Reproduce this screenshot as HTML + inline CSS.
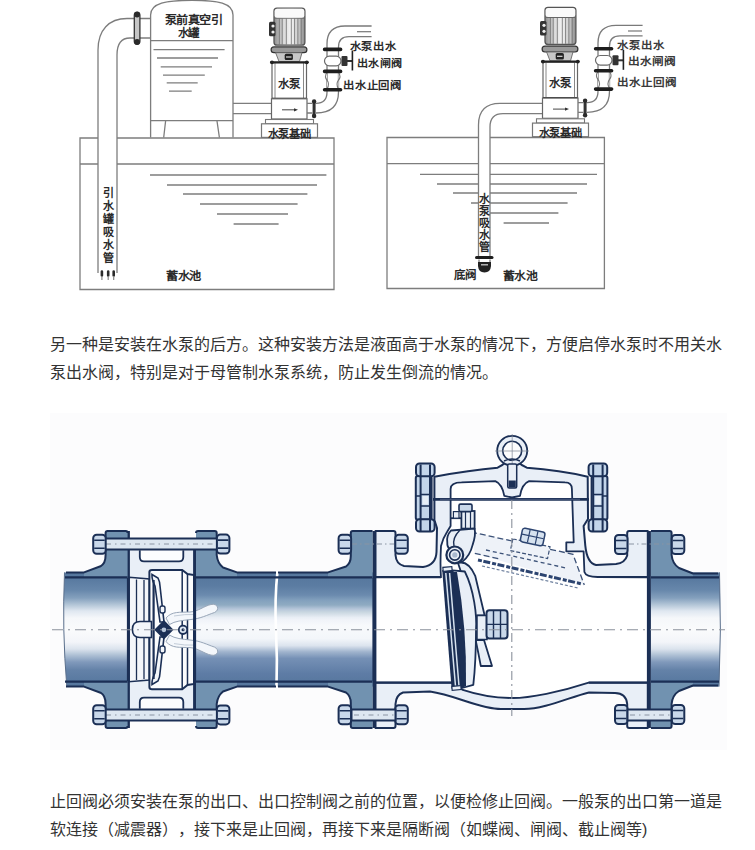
<!DOCTYPE html>
<html lang="zh-CN"><head><meta charset="utf-8">
<style>
html,body{margin:0;padding:0;background:#fff;width:755px;height:850px;overflow:hidden;}
body{position:relative;font-family:"Liberation Sans",sans-serif;}
.p{position:absolute;left:50px;width:680px;font-size:16px;line-height:28px;color:#333;white-space:nowrap;text-spacing-trim:space-all;}
.ln{display:block;height:28px;}
#topd{position:absolute;left:0;top:0;}
#valve{position:absolute;left:50px;top:413px;}
</style></head><body>
<svg id="topd" width="755" height="300" viewBox="0 0 755 300">
<defs>
<linearGradient id="mg" x1="0" y1="0" x2="1" y2="0">
<stop offset="0" stop-color="#8e8e8e"/><stop offset="0.3" stop-color="#d8d8d8"/><stop offset="0.55" stop-color="#f4f4f4"/><stop offset="0.8" stop-color="#c8c8c8"/><stop offset="1" stop-color="#8a8a8a"/>
</linearGradient>
<g id="pump">
 <!-- motor -->
 <rect x="274" y="8.2" width="30.9" height="37" rx="3" fill="url(#mg)" stroke="#555" stroke-width="1.3"/>
 <path d="M274.5 18.1H304.4" stroke="#666" stroke-width="1.2"/>
 <rect x="274.6" y="8.8" width="29.7" height="9" rx="2.5" fill="#fafafa"/>
 <path d="M279.3 18.5V44.5M282.2 18.5V44.5M286.3 18.5V44.5M291.3 18.5V44.5M294.6 18.5V44.5M297.9 18.5V44.5M301.2 18.5V44.5" stroke="#6a6a6a" stroke-width="0.8"/>
 <rect x="269" y="21.8" width="6.5" height="14.4" rx="1.5" fill="#333"/>
 <circle cx="273" cy="26" r="1.6" fill="#eee"/><circle cx="273" cy="32" r="1.6" fill="#eee"/>
 <!-- flange plate -->
 <rect x="271.1" y="46.9" width="35.8" height="5.8" rx="2.9" fill="#9a9a9a" stroke="#333" stroke-width="1.2"/>
 <path d="M275.6 52.7 L279 61.5 L299.5 61.5 L302 52.7 Z" fill="#c8c8c8" stroke="#666" stroke-width="0.9"/>
 <rect x="284.7" y="53.8" width="8.2" height="6.3" rx="1.5" fill="#222"/>
 <path d="M286 57H291.5" stroke="#ddd" stroke-width="1.2"/>
 <!-- pump body -->
 <rect x="272" y="62.5" width="34.5" height="36" fill="#fff" stroke="#666" stroke-width="1.2"/>
 <path d="M275 63V98M303.5 63V98" stroke="#888" stroke-width="1"/>
 <path d="M271 62.3H307.5" stroke="#222" stroke-width="2.2" stroke-linecap="round"/>
 <circle cx="272" cy="62.3" r="1.9" fill="#222"/><circle cx="306.8" cy="62.3" r="1.9" fill="#222"/>
 <path d="M272 98.5H306.5" stroke="#333" stroke-width="1.6"/>
 <text x="289.3" y="88" font-size="11.5" font-weight="bold" fill="#2a2a2a" text-anchor="middle">水泵</text>
 <!-- base -->
 <rect x="271.5" y="98.8" width="35.5" height="20.2" fill="#fff" stroke="#666" stroke-width="1.2"/>
 <path d="M282 109.8H296" stroke="#555" stroke-width="1.1"/><path d="M294 108.2L298 109.8L294 111.4Z" fill="#333"/>
 <rect x="265.5" y="119.5" width="48" height="4.3" fill="#fff" stroke="#777" stroke-width="1.1"/>
 <!-- foundation -->
 <rect x="261.5" y="123.8" width="56" height="13.6" fill="#fff" stroke="#777" stroke-width="1.2"/>
 <text x="289.2" y="137.8" font-size="11.5" font-weight="bold" fill="#2a2a2a" text-anchor="middle" textLength="43" lengthAdjust="spacingAndGlyphs">水泵基础</text>
 <!-- discharge flange -->
 <rect x="312.6" y="100.5" width="3" height="16.5" rx="1.5" fill="#333"/><circle cx="314.1" cy="101.5" r="2.2" fill="#2a2a2a"/><circle cx="314.1" cy="116" r="2.2" fill="#2a2a2a"/>
 <!-- discharge pipe -->
 <g fill="none" stroke="#7a7a7a" stroke-width="1.3">
  <path d="M316 103.3 Q327 103.3 327 92 L327 44 Q327 26 345 26 L371.6 26"/>
  <path d="M316 113 Q338.5 113 338.5 92 L338.5 47 Q338.5 36.6 349 36.6 L371.6 36.6"/>
  <path d="M307 103.4H312.5M307 113H312.5"/>
 </g>
 <path d="M357 31.7H371" stroke="#777" stroke-width="1.2"/>
 <!-- valve bulge (gate) -->
 <rect x="324.5" y="56.2" width="16.5" height="9.6" rx="4.8" fill="#fff" stroke="#6a6a6a" stroke-width="1.2"/>
 <!-- check valve wavy -->
 <path d="M327 72 Q324 77 327 80 Q330 84 327 89 M338.5 72 Q341.5 77 338.5 80 Q335.5 84 338.5 89" fill="#fff" stroke="#777" stroke-width="1.1"/>
 <!-- flanges -->
 <g stroke="#1e1e1e" stroke-width="3.6" stroke-linecap="round">
  <path d="M324.6 49.4H340.6M324.6 71.4H340.6M324.6 89.8H340.6"/>
 </g>
 <!-- gate handle -->
 <rect x="341.5" y="56" width="6" height="10" rx="1" fill="#333"/>
 <path d="M347 61H352.4" stroke="#333" stroke-width="2"/>
 <path d="M352.4 50.5V70.5" stroke="#222" stroke-width="1.6"/>

</g>
</defs>
<g fill="none" stroke="#7d7d7d" stroke-width="1.3">
 <!-- LEFT pool -->
 <path d="M98 138H80V289.5H334V138H117"/>
 <path d="M80 164H98M117 164H334"/>
 <path d="M150 175H326.4M167 185H317M183 194H307.4M200 204H297.6M217 214H288M233.6 224H278.6"/>
 <!-- suction pipe -->
 <path d="M134 18.5 L127 18.5 C109 18.5 98 30 98 50 L98 273"/>
 <path d="M134 38 L130 38 C121 38 117 44 117 55 L117 273"/>
 <path d="M140 18.5H150.6M140 38H150.6"/>
 <!-- tank -->
 <path d="M150.6 137.5 L150.6 15 C150.6 3 166 0.3 192 0.3 C218 0.3 233 3 233 15 L233 137.5"/>
 <path d="M150.6 40.7H233M150.6 120.6H233"/>
 <path d="M165.6 121L163.7 137.5M217 121L219.4 137.5"/>
 <path d="M153.5 49.6H224.6M157 58H218M160.7 66.8H212M163 75.2H204.8M166.7 82.8H197.7M169 91.2H191.7"/>
 <!-- suction line to pump -->
 <path d="M233 103.4H271.5M233 113.6H271.5"/>
 <!-- RIGHT pool -->
 <path d="M478.5 137.5H387V288.5H604.4V137.5H490"/>
 <path d="M387 163.6H478.5M490 163.6H604.4"/>
 <path d="M420 174.4H478.5M490 174.4H597M437 184H478.5M490 184H587M453 193H478.5M490 193H577M471 203H478.5M490 203H567.6M490 213H558.4M503.6 223H549"/>
 <!-- right suction pipe -->
 <path d="M543 103.4 L500 103.4 Q478.5 103.4 478.5 125 L478.5 257"/>
 <path d="M543 113.7 L503 113.7 Q490 113.7 490 127 L490 257"/>
</g>
<!-- flange on suction pipe -->
<rect x="134.3" y="12.5" width="5.6" height="31.5" rx="2.8" fill="#c6c6c6" stroke="#333" stroke-width="1.3"/>
<circle cx="137.1" cy="14.5" r="2.9" fill="#2a2a2a"/><circle cx="137.1" cy="42" r="2.9" fill="#2a2a2a"/>
<!-- tank labels -->
<g font-size="11.5" font-weight="bold" fill="#2a2a2a">
 <text x="164.5" y="24" textLength="57.7" lengthAdjust="spacingAndGlyphs">泵前真空引</text>
 <text x="177.5" y="36.8" textLength="21.8" lengthAdjust="spacingAndGlyphs">水罐</text>
</g>
<!-- vertical label left -->
<g font-size="11" font-weight="bold" fill="#2a2a2a" text-anchor="middle">
 <text x="108" y="197">引</text><text x="108" y="210">水</text><text x="108" y="223">罐</text><text x="108" y="236">吸</text><text x="108" y="249">水</text><text x="108" y="262">管</text>
 <text x="484" y="203">水</text><text x="484" y="215">泵</text><text x="484" y="227">吸</text><text x="484" y="239">水</text><text x="484" y="251">管</text>
</g>
<path d="M101.9 271.5V275.5M108.2 271.5V275.5M113.7 271.5V275.5" stroke="#2a2a2a" stroke-width="2.6" stroke-linecap="round"/><path d="M101.9 276V280M108.2 276V280M113.7 276V280" stroke="#888" stroke-width="1.2"/>

<g font-size="11.5" font-weight="bold" fill="#2a2a2a">
 <text x="166" y="280.3" textLength="35" lengthAdjust="spacingAndGlyphs">蓄水池</text>
 <text x="503" y="279.5" textLength="34" lengthAdjust="spacingAndGlyphs">蓄水池</text>
 <text x="454" y="278.5" textLength="22" lengthAdjust="spacingAndGlyphs">底阀</text>
</g>
<!-- foot valve -->
<path d="M476.5 257.5H492" stroke="#1e1e1e" stroke-width="3" stroke-linecap="round"/>
<path d="M478 262 L478 266 Q478.5 272.5 484.5 272.5 Q490.5 272.5 491 266 L491 262 Z" fill="#222"/>
<path d="M481 264.8H488" stroke="#ccc" stroke-width="1.3"/><path d="M479 259.5V262M490 259.5V262" stroke="#555" stroke-width="1"/>
<g font-size="10.6" font-weight="bold" fill="#2b2b2b">
  <text x="349.5" y="50" textLength="47" lengthAdjust="spacingAndGlyphs">水泵出水</text>
  <text x="356.5" y="67.3" textLength="46" lengthAdjust="spacingAndGlyphs">出水闸阀</text>
  <text x="343" y="88.5" textLength="59" lengthAdjust="spacingAndGlyphs">出水止回阀</text>
 </g>
<use href="#pump"/>
<use href="#pump" x="271" y="-0.7"/>
<g font-size="10.6" fill="#3a3a3a" font-weight="bold">
  <text x="617" y="49" textLength="47.5" lengthAdjust="spacingAndGlyphs">水泵出水</text>
  <text x="627.5" y="64.8" textLength="48.5" lengthAdjust="spacingAndGlyphs">出水闸阀</text>
  <text x="617" y="86" textLength="60" lengthAdjust="spacingAndGlyphs">出水止回阀</text>
 </g>
</svg>
<div class="p" style="top:330.5px"><span class="ln">另一种是安装在水泵的后方。这种安装方法是液面高于水泵的情况下，方便启停水泵时不用关水</span><span class="ln">泵出水阀，特别是对于母管制水泵系统，防止发生倒流的情况。</span></div>
<svg id="valve" width="677" height="337" viewBox="50 413 677 337">
<defs>
<linearGradient id="pg" gradientUnits="userSpaceOnUse" x1="0" y1="572" x2="0" y2="687">
<stop offset="0" stop-color="#55769c"/>
<stop offset="0.12" stop-color="#5b7ca2"/>
<stop offset="0.2" stop-color="#6b8aae"/>
<stop offset="0.245" stop-color="#82a0bd"/>
<stop offset="0.287" stop-color="#8fabc2"/>
<stop offset="0.322" stop-color="#b6c6da"/>
<stop offset="0.348" stop-color="#c8d6e0"/>
<stop offset="0.396" stop-color="#e9eef5"/>
<stop offset="0.42" stop-color="#f1f4f9"/>
<stop offset="0.47" stop-color="#f8fafc"/>
<stop offset="0.58" stop-color="#f3f6fa"/>
<stop offset="0.64" stop-color="#dce4ee"/>
<stop offset="0.695" stop-color="#9fb3cd"/>
<stop offset="0.752" stop-color="#7590b5"/>
<stop offset="0.884" stop-color="#5e7ca5"/>
<stop offset="1" stop-color="#55769c"/>
</linearGradient>
<linearGradient id="pg2" gradientUnits="userSpaceOnUse" x1="0" y1="572" x2="0" y2="687">
<stop offset="0" stop-color="#55769c"/>
<stop offset="0.07" stop-color="#5a7ba1"/>
<stop offset="0.157" stop-color="#6787ab"/>
<stop offset="0.226" stop-color="#84a0bd"/>
<stop offset="0.287" stop-color="#b5c7d8"/>
<stop offset="0.339" stop-color="#dfe7f0"/>
<stop offset="0.4" stop-color="#f5f7fa"/>
<stop offset="0.504" stop-color="#fafbfc"/>
<stop offset="0.609" stop-color="#f3f5f9"/>
<stop offset="0.67" stop-color="#dbe3ed"/>
<stop offset="0.722" stop-color="#afc1d5"/>
<stop offset="0.783" stop-color="#8099bb"/>
<stop offset="0.852" stop-color="#6482a8"/>
<stop offset="0.939" stop-color="#5a7aa1"/>
<stop offset="1" stop-color="#55769c"/>
</linearGradient>
<g id="nut"><rect x="0" y="0" width="12.5" height="19" rx="3.5" fill="#c9d8ea" stroke="#1b2f55" stroke-width="2"/><path d="M1 5.5H11.5M1 13.5H11.5" stroke="#1b2f55" stroke-width="1.6"/></g>
<g id="vnut"><rect x="0" y="0" width="19" height="13" rx="3" fill="#c9d8ea" stroke="#1b2f55" stroke-width="2"/><path d="M5.5 1V12M13.5 1V12" stroke="#1b2f55" stroke-width="1.6"/></g>
<g id="vhalf">
 <!-- left flange -->
 <path d="M84 572.4 L100.5 566.3 Q105.6 563.5 105.6 555 L105.6 533 Q105.6 531 107.6 531 L125.8 531 Q127.6 531 127.6 533 L127.6 578 L84 578 Z" fill="#7192b0"/>
 <!-- wafer right flange -->
 <path d="M196 531 L214.7 531 Q216.7 531 216.7 533 L216.7 555 Q217.5 563 223 567.5 L237 572.4 L237 578 L196 578 Z" fill="#7192b0"/>
 <!-- middle flange -->
 <path d="M328 572.4 L346 566.5 Q350.8 563 350.8 556 L350.8 533 Q350.8 531 352.8 531 L372.5 531 L372.5 578 L328 578 Z" fill="#7192b0"/>
 <!-- outlet flange -->
 <path d="M651 531 L669.6 531 Q671.6 531 671.6 533 L671.6 555 Q672.5 564 679 568 L693 573.5 L693 578 L651 578 Z" fill="#7192b0"/>
 <g fill="none" stroke="#1b2f55" stroke-width="2" stroke-linejoin="round">
  <path d="M66 572.4 L84 572.4 L100.5 566.3 Q105.6 563.5 105.6 555 L105.6 533 Q105.6 531 107.6 531 L125.8 531 Q127.6 531 127.6 533"/>
  <path d="M196 533 Q196 531 198 531 L214.7 531 Q216.7 531 216.7 533 L216.7 555 Q217.5 563 223 567.5 L237 572.4 L276 572.4"/>
  <path d="M278 572.4 L328 572.4 L346 566.5 Q350.8 563 350.8 556 L350.8 533 Q350.8 531 352.8 531 L372.5 531"/>
  <path d="M651 531 L669.6 531 Q671.6 531 671.6 533 L671.6 555 Q672.5 564 679 568 L693 573.5 L718 573.5"/>
 </g>
 <!-- pipe inner lines -->
 <path d="M65 577.3H127.6 M196 577.3H372.5 M651 577.3H719" stroke="#1b2f55" stroke-width="2.2"/>
 <!-- wafer bolt -->
 <rect x="100" y="538.5" width="124" height="11" fill="#dde7f1" stroke="#1b2f55" stroke-width="2"/>
 <path d="M106 544H222" stroke="#8a94a3" stroke-width="1" stroke-dasharray="5 4 1.5 4"/>
 <use href="#nut" x="93.2" y="534.8"/>
 <use href="#nut" x="216.9" y="534.6"/>
 <!-- middle bolt -->
 <path d="M352 544H394 M629 544H670" stroke="#8a94a3" stroke-width="1" stroke-dasharray="5 3 1.5 3"/>
 <use href="#nut" x="338.6" y="534.8"/>
 <use href="#nut" x="395.3" y="534.8"/>
 <use href="#nut" x="615" y="535"/>
 <use href="#nut" x="671.8" y="535"/>
</g>
</defs>
<rect x="50" y="413" width="677" height="337" fill="#fcfcfd"/>

<!-- pipes -->
<path d="M64.5 572.4 L128 572.4 L128 686.6 L66.8 686.6 Q62 630 64.5 572.4 Z" fill="url(#pg2)"/>
<path d="M64.5 572.4 Q62 630 66.8 686.6" fill="none" stroke="#5a6f8c" stroke-width="1"/>
<rect x="196" y="572.4" width="177" height="114.2" fill="url(#pg)"/>
<path d="M651 572.4 L719.5 572.4 Q721.5 630 719 686.6 L651 686.6 Z" fill="url(#pg2)"/>
<path d="M719.5 572.4 Q721.5 630 719 686.6" fill="none" stroke="#5a6f8c" stroke-width="1"/>
<!-- pipe break -->
<path d="M277.5 571 Q274.5 600 276 630 Q277.5 660 276.5 688" fill="none" stroke="#ffffff" stroke-width="2.6"/>

<!-- wafer body -->
<rect x="128" y="549" width="68" height="161" fill="#e9eff7"/>
<path d="M139.8 550.3 L139.8 557 Q139.8 561.4 144 561.4 L179 561.4 Q183.3 561.4 183.3 557 L183.3 550.3" fill="#fcfdfe" stroke="#1b2f55" stroke-width="1.8"/>
<path d="M139.8 708.7 L139.8 702 Q139.8 697.6 144 697.6 L179 697.6 Q183.3 697.6 183.3 702 L183.3 708.7" fill="#fcfdfe" stroke="#1b2f55" stroke-width="1.8"/>
<!-- seat cone -->
<path d="M129 577.3 L149.4 579 L149.4 680 L129 681.7 Z" fill="#f3f6fa" stroke="#1b2f55" stroke-width="1.6"/>
<path d="M136.5 579.5V680 M144 580V679" stroke="#1b2f55" stroke-width="1.3"/>
<!-- cage -->
<path d="M149.4 572 Q149.4 569.9 152 569.9 L182.2 569.9 L187.5 574.1 L194 575 L194 684 L187.5 685 L182.2 689.3 L152 689.3 Q149.4 689.3 149.4 687 Z" fill="#fbfcfd" stroke="#1b2f55" stroke-width="2"/>
<path d="M182.2 570V689 M187.5 574V685" stroke="#1b2f55" stroke-width="1.5"/>
<!-- disc plates -->
<path d="M152 574.5 L158 578 Q160 582 160 586 L164 622 L160 622 L155 586 Q152 580 152 576 Z" fill="#f3f6fa" stroke="#1b2f55" stroke-width="1.6"/>
<path d="M152 684.5 L158 681 Q160 677 160 673 L164 637 L160 637 L155 673 Q152 679 152 683 Z" fill="#f3f6fa" stroke="#1b2f55" stroke-width="1.6"/>
<path d="M153.6 580V679" stroke="#1b2f55" stroke-width="2.2"/>
<!-- stub -->
<path d="M151.5 621.5 L140 621.5 Q132.4 621.5 132.4 629.5 Q132.4 637.5 140 637.5 L151.5 637.5 Z" fill="#f3f6fa" stroke="#1b2f55" stroke-width="1.6"/>
<!-- lugs -->
<rect x="160" y="606" width="5" height="7" rx="2" fill="#f3f6fa" stroke="#1b2f55" stroke-width="1.4"/>
<rect x="160" y="646" width="5" height="7" rx="2" fill="#f3f6fa" stroke="#1b2f55" stroke-width="1.4"/>
<!-- hub -->
<path d="M163.9 620 L173.5 629.8 L163.9 639.6 L154.3 629.8 Z" fill="#1b2f55"/>
<circle cx="163.9" cy="629.8" r="2.4" fill="#b7c6da"/>
<circle cx="183" cy="629.8" r="4.2" fill="#dfe8f3" stroke="#1b2f55" stroke-width="1.8"/><circle cx="183" cy="629.8" r="1.5" fill="#1b2f55"/>
<!-- springs -->
<g id="spr"><path d="M166 618 C172 611 180 612.5 190 612 C198 611.5 204 606 211 604.5 C218 603 220 610 214.5 612.5 C207 615 201 618.5 191 619.5 C182 620.5 175 621 169.5 624.5 Z" fill="#f4f7fb" stroke="#98a6b8" stroke-width="1"/>
<path d="M174 616 Q185 614 195 614.5" fill="none" stroke="#b5c0ce" stroke-width="0.8"/></g>
<use href="#spr" transform="matrix(1 0 0 -1 0 1259.6)"/>
<!-- swing check valve body -->
<path d="M375.5 531 L393.5 531 Q395.5 531 395.5 533 L395.5 555 Q396 564 404 566 L423 567 Q436 565 436.5 552 L437 528 L434.4 520 L434.4 476.7 Q470 470 497.6 467.7 Q503 465 506 462 L518 462 Q521 465 526.8 467.7 Q560 470 587.7 476.7 L588 519 L583.6 526 L585.3 545.6 Q587 563 596 565 L616 564 Q625 563 627.2 555.5 L627.2 533 Q627.2 531 629.2 531 L647.8 531 L647.8 728 L629.2 728 Q627.2 728 627.2 726 L627.2 704 Q626 693 615 693 L589 692.5 C570 697 545 709 524 709 L501 709 C480 709 455 695 430 691.5 L403 692.5 Q396 695 395.5 704 L395.5 726 Q395.5 728 393.5 728 L375.5 728 Z" fill="#e9eff7" stroke="#1b2f55" stroke-width="2" stroke-linejoin="round"/>
<!-- inner chamber -->
<path d="M375.5 577.2 L441 577.2 Q440 565 441 546 Q443 538 447 532 L450.6 526 L450.6 489 Q450.6 482.3 461.5 482.3 L495.3 481.2 Q502 484 504.3 495.8 L512 497.5 L520 495.8 Q522 484 529.1 481.2 L565 482.3 Q571.9 482.3 571.9 489 L573.7 542.3 L566.3 542.3 L566.3 551.4 L583.6 551.4 L584.4 572 Q586 577 597.6 577 L647.8 577.2 L647.8 682.6 L588.7 682.6 C560 692 530 698 512.5 698 C495 698 475 694 462.8 689.9 L452 682.6 L375.5 682.6 Z" fill="#ffffff" stroke="#1b2f55" stroke-width="1.8" stroke-linejoin="round"/>
<path d="M375.5 577.2 L441 577.2 M647.8 577.2 L597.6 577 M375.5 682.6 L452 682.6 M588.7 682.6 L647.8 682.6" stroke="#1b2f55" stroke-width="2.2"/>
<!-- gasket line -->
<path d="M433 499.3 H589" stroke="#1b2f55" stroke-width="2.8"/>
<path d="M440 499.3 H580" stroke="#5b6f90" stroke-width="0.7"/>
<!-- eyebolt -->
<circle cx="512.2" cy="450.8" r="15" fill="#e9eff7" stroke="#1b2f55" stroke-width="1.8"/>
<circle cx="512.2" cy="450.8" r="9.5" fill="#fcfcfd" stroke="#1b2f55" stroke-width="1.6"/>
<path d="M495 451H529 M512.2 434V467" stroke="#7f8794" stroke-width="0.7"/>
<path d="M504 461 Q512 457 520 461" fill="none" stroke="#1b2f55" stroke-width="1.4"/>
<rect x="507.7" y="464" width="9" height="24" rx="1.5" fill="#e9eff7" stroke="#1b2f55" stroke-width="1.5"/>
<rect x="508.6" y="480.5" width="7.2" height="7" fill="#1b2f55"/>
<!-- cover bolts -->
<g id="cbolt">
<rect x="415.8" y="476" width="15.8" height="43.8" rx="2" fill="#c3d5ea" stroke="#1b2f55" stroke-width="2"/>
<rect x="416" y="463.5" width="18.6" height="12.8" rx="3.5" fill="#c3d5ea" stroke="#1b2f55" stroke-width="2"/>
<rect x="416" y="519.3" width="18.6" height="12.3" rx="3.5" fill="#c3d5ea" stroke="#1b2f55" stroke-width="2"/>
<path d="M420.6 464.5V531 M430 464.5V531" stroke="#1b2f55" stroke-width="2"/>
<path d="M420.6 494.5H430 M420.6 506H430 M415.8 496H420.6" stroke="#1b2f55" stroke-width="1.5"/>
<rect x="422.5" y="496" width="5.6" height="8.5" fill="#e6eef7"/>
</g>
<use href="#cbolt" transform="matrix(-1 0 0 1 1023.2 0)"/>

<!-- dashed open disc -->
<path d="M471 532 L573 554.3 L584.3 585 L474.8 553.4 Z" fill="#eef2f8"/>
<path d="M478 560 L582 584" stroke="#2c4470" stroke-width="3" stroke-dasharray="4 1.5 7 2"/>
<path d="M482 566 L578 588" stroke="#6a7d9c" stroke-width="1.2" stroke-dasharray="3 2"/>
<g fill="none" stroke="#3c5278" stroke-width="1.3" stroke-dasharray="6 3">
<path d="M471 532 L573 554.3 L584.3 585 M474.8 553.4 L500 559"/>
<path d="M486 550 L566 568" stroke-dasharray="4 3"/>
</g>
<g transform="translate(-2 5) rotate(12 534 540)">
<rect x="514" y="538" width="38" height="12" fill="#eef2f8" stroke="#3c5278" stroke-width="1.2" stroke-dasharray="4 2"/>
<rect x="521.5" y="525" width="23" height="14" rx="2.5" fill="#d6e2ef" stroke="#2c4470" stroke-width="1.5"/>
<path d="M529 525.5V538.5 M537 525.5V538.5 M522 531.5H544" stroke="#2c4470" stroke-width="1.2"/>
</g>

<!-- hinge bracket -->
<path d="M450.6 518.2 L461.4 518.2" stroke="#1b2f55" stroke-width="1.8"/>
<rect x="453.4" y="511.6" width="5.6" height="6.6" fill="#e9eff7" stroke="#1b2f55" stroke-width="1.2"/>
<rect x="461.4" y="511" width="13.2" height="17.6" fill="#e9eff7" stroke="#1b2f55" stroke-width="1.8"/>
<path d="M465.5 512V528 M470.5 512V528" stroke="#1b2f55" stroke-width="1.2"/>
<rect x="459" y="504.1" width="13" height="7.5" rx="1.5" fill="#c9d8ea" stroke="#1b2f55" stroke-width="1.6"/>
<path d="M451 530.5 Q446 536 447.3 542.7 Q447 547 450 549 L462 562 Q470 556 472.7 544.6 Q476 535 474.6 528.6 Z" fill="#e9eff7" stroke="#1b2f55" stroke-width="1.8" stroke-linejoin="round"/>
<path d="M460 530 Q452 538 454 546" fill="none" stroke="#1b2f55" stroke-width="1.4"/>
<!-- disc arm -->
<path d="M458 563 Q468 560 475.2 575.8 L484.6 615.3 L477 615.3 L477 640 L484 640 L492 666 L480.8 666 Q476 640 471 620 Q466 590 462 575 Z" fill="#e9eff7" stroke="#1b2f55" stroke-width="1.8" stroke-linejoin="round"/>
<!-- disc -->
<path d="M452.6 570.3 L464.8 571.5 C474 590 477 615 476 630 C476 650 475 670 473.3 684.9 L462 688 Z" fill="#e9eff7" stroke="#1b2f55" stroke-width="1.8" stroke-linejoin="round"/>
<path d="M452.6 572 L457 572 Q467 628 466 686 L462 688 Z" fill="#1b2f55"/>
<path d="M442.2 570.1 L452.6 570.1 L462 688.7 L451.6 688.7 Z" fill="#1b2f55"/>
<path d="M445.8 573 L455.5 686 M449.6 573 L459 686" stroke="#d6e2ef" stroke-width="1.5"/>
<rect x="443" y="567" width="9" height="4" fill="#e9eff7" stroke="#1b2f55" stroke-width="1.2" transform="rotate(-5 447 569)"/>
<rect x="452" y="686" width="9" height="4" fill="#e9eff7" stroke="#1b2f55" stroke-width="1.2" transform="rotate(-5 456 688)"/>
<!-- disc nut -->
<rect x="477" y="615.5" width="10" height="24" fill="#e9eff7" stroke="#1b2f55" stroke-width="1.5"/>
<rect x="486.5" y="610.3" width="21" height="28.2" rx="3" fill="#c9d8ea" stroke="#1b2f55" stroke-width="2"/>
<path d="M493.5 611V638 M500.5 611V638 M487 624.4H507" stroke="#1b2f55" stroke-width="1.4"/>
<!-- hinge pin -->
<circle cx="454.8" cy="554.9" r="8.4" fill="#e9eff7" stroke="#1b2f55" stroke-width="2.2"/>
<circle cx="454.8" cy="554.9" r="5.2" fill="none" stroke="#1b2f55" stroke-width="1.6"/>
<circle cx="454.8" cy="554.9" r="2.6" fill="#a9b9cf"/>

<!-- joints -->
<path d="M128.4 531V728 M194.6 549V710 M373.9 531V728 M649.4 531V728" stroke="#1b2f55" stroke-width="3"/>

<use href="#vhalf"/>
<use href="#vhalf" transform="matrix(1 0 0 -1 0 1259)"/>
<rect x="351.5" y="709.5" width="44" height="11" fill="#dde7f1" stroke="#1b2f55" stroke-width="2"/>
<rect x="627.5" y="709.5" width="44" height="11" fill="#dde7f1" stroke="#1b2f55" stroke-width="2"/>
<path d="M354 715H394 M630 715H670" stroke="#8a94a3" stroke-width="1" stroke-dasharray="5 4 1.5 4"/>

<!-- centre lines -->
<path d="M52 629.8H725" stroke="#8a919c" stroke-width="1.1" stroke-dasharray="11 5 2 5" fill="none"/>
<path d="M511.8 500V716" stroke="#8a919c" stroke-width="1.1" stroke-dasharray="9 4 2 4" fill="none"/>
</svg>
<div class="p" style="top:787.5px"><span class="ln">止回阀必须安装在泵的出口、出口控制阀之前的位置，以便检修止回阀。一般泵的出口第一道是</span><span class="ln">软连接（减震器），接下来是止回阀，再接下来是隔断阀（如蝶阀、闸阀、截止阀等)</span></div>
</body></html>
